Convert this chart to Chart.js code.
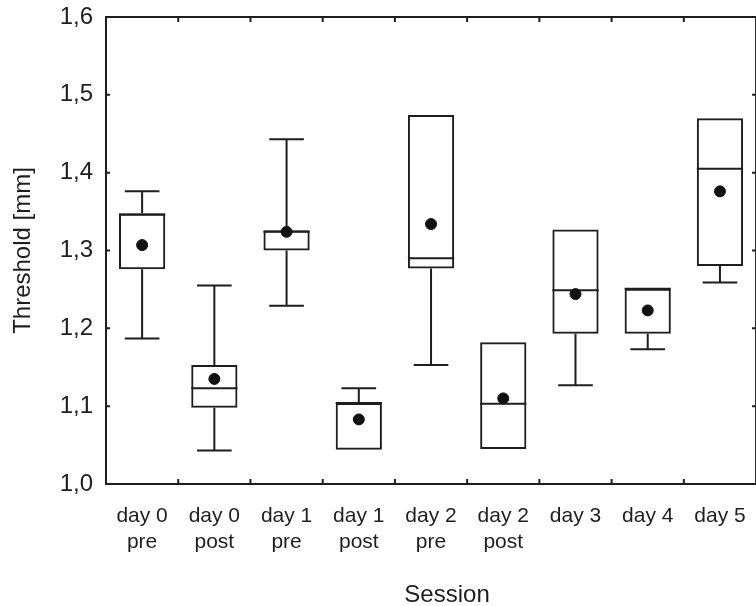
<!DOCTYPE html>
<html lang="en">
<head>
    <meta charset="UTF-8">
    <title>Threshold by session</title>
    <script src="https://cdn.jsdelivr.net/npm/chart.js@4.4.1/dist/chart.umd.min.js"></script>
    <style>
        body {
            margin: 0;
            background: #fff;
            overflow: hidden;
        }
        .chart-wrap {
            position: relative;
            width: 766px;
            height: 606px;
        }
    </style>
</head>
<body>
    <div class="chart-wrap">
        <canvas id="boxChart"></canvas>
    </div>

    <script>
        const sessions = [['day 0', 'pre'], ['day 0', 'post'], ['day 1', 'pre'], ['day 1', 'post'],
                          ['day 2', 'pre'], ['day 2', 'post'], 'day 3', 'day 4', 'day 5'];
        const whiskerLow  = [1.187, 1.043, 1.229, 1.044, 1.153, 1.045, 1.127, 1.173, 1.259];
        const q1          = [1.276, 1.098, 1.300, 1.044, 1.277, 1.045, 1.193, 1.193, 1.280];
        const median      = [1.346, 1.123, 1.324, 1.104, 1.290, 1.103, 1.249, 1.251, 1.405];
        const q3          = [1.348, 1.153, 1.326, 1.104, 1.474, 1.182, 1.327, 1.251, 1.470];
        const whiskerHigh = [1.376, 1.255, 1.443, 1.123, 1.474, 1.182, 1.327, 1.251, 1.470];
        const means       = [1.307, 1.135, 1.324, 1.083, 1.334, 1.110, 1.244, 1.223, 1.376];
        const yTicks = [1.0, 1.1, 1.2, 1.3, 1.4, 1.5, 1.6];
        const xTitle = 'Session';

        const ink = '#1e1e1e';
        const fontFamily = 'Arial, "Liberation Sans", sans-serif';

        // whiskers + median lines, then the frame with inward ticks
        const boxExtras = {
            id: 'boxExtras',
            beforeDatasetsDraw(chart) {
                const {ctx, scales: {x, y}} = chart;
                const cat = (chart.chartArea.right - chart.chartArea.left) / sessions.length;
                const capHalf = cat * 0.24;
                const boxHalf = cat * 0.32;
                ctx.save();
                ctx.strokeStyle = ink;
                ctx.lineWidth = 2;
                sessions.forEach((s, i) => {
                    const cx = x.getPixelForValue(i);
                    ctx.beginPath();
                    if (whiskerHigh[i] > q3[i]) {
                        ctx.moveTo(cx, y.getPixelForValue(q3[i]));
                        ctx.lineTo(cx, y.getPixelForValue(whiskerHigh[i]));
                        ctx.moveTo(cx - capHalf, y.getPixelForValue(whiskerHigh[i]));
                        ctx.lineTo(cx + capHalf, y.getPixelForValue(whiskerHigh[i]));
                    }
                    if (whiskerLow[i] < q1[i]) {
                        ctx.moveTo(cx, y.getPixelForValue(q1[i]));
                        ctx.lineTo(cx, y.getPixelForValue(whiskerLow[i]));
                        ctx.moveTo(cx - capHalf, y.getPixelForValue(whiskerLow[i]));
                        ctx.lineTo(cx + capHalf, y.getPixelForValue(whiskerLow[i]));
                    }
                    const my = y.getPixelForValue(median[i]);
                    ctx.moveTo(cx - boxHalf, my);
                    ctx.lineTo(cx + boxHalf, my);
                    ctx.stroke();
                });
                ctx.restore();
            },
            afterDatasetsDraw(chart) {
                const {ctx, chartArea: a, scales: {x, y}} = chart;
                const cat = (a.right - a.left) / sessions.length;
                ctx.save();
                ctx.strokeStyle = ink;
                ctx.lineWidth = 2;
                ctx.strokeRect(a.left, a.top, a.right - a.left, a.bottom - a.top);
                ctx.beginPath();
                yTicks.forEach(v => {
                    const py = y.getPixelForValue(v);
                    ctx.moveTo(a.left, py); ctx.lineTo(a.left + 4, py);
                    ctx.moveTo(a.right, py); ctx.lineTo(a.right - 4, py);
                });
                for (let i = 0; i < sessions.length - 1; i++) {
                    const px = x.getPixelForValue(i) + cat / 2;
                    ctx.moveTo(px, a.top); ctx.lineTo(px, a.top + 5);
                    ctx.moveTo(px, a.bottom); ctx.lineTo(px, a.bottom - 5);
                }
                ctx.stroke();

                // axis title sits a bit right of centre in the original
                ctx.fillStyle = ink;
                ctx.font = '24px ' + fontFamily;
                ctx.textAlign = 'center';
                ctx.textBaseline = 'alphabetic';
                ctx.fillText(xTitle, (a.left + a.right) / 2 + 16, 602);
                ctx.restore();
            }
        };

        new Chart(document.getElementById('boxChart'), {
            type: 'bar',
            data: {
                labels: sessions,
                datasets: [
                    {
                        type: 'line',
                        label: 'Mean',
                        data: means,
                        showLine: false,
                        pointRadius: 5.5,
                        pointBackgroundColor: '#111',
                        pointBorderColor: '#111',
                        order: 0
                    },
                    {
                        label: 'IQR',
                        data: q1.map((v, i) => [v, q3[i]]),
                        backgroundColor: 'rgba(0,0,0,0)',
                        borderColor: ink,
                        borderWidth: 2,
                        borderSkipped: false,
                        barPercentage: 0.64,
                        categoryPercentage: 1,
                        order: 1
                    }
                ]
            },
            options: {
                responsive: true,
                maintainAspectRatio: false,
                animation: false,
                layout: { padding: { top: 17, right: 3, left: 0, bottom: 0 } },
                plugins: {
                    legend: { display: false },
                    tooltip: { enabled: false }
                },
                scales: {
                    x: {
                        grid: { display: false, drawTicks: false },
                        border: { display: false },
                        afterFit: s => { s.height = 122; },
                        ticks: {
                            color: ink,
                            padding: 20,
                            maxRotation: 0,
                            autoSkip: false,
                            font: { family: fontFamily, size: 21, lineHeight: 1.2 }
                        },
                        title: { display: false }
                    },
                    y: {
                        min: 1.0,
                        max: 1.6,
                        grid: { display: false, drawTicks: false },
                        border: { display: false },
                        afterFit: s => {
                            s.width = 106;
                            s.paddingTop = 0;
                            s.paddingBottom = 0;
                        },
                        afterBuildTicks: s => { s.ticks = yTicks.map(v => ({ value: v })); },
                        ticks: {
                            color: ink,
                            padding: 13,
                            callback: v => v.toFixed(1).replace('.', ','),
                            font: { family: fontFamily, size: 24 }
                        },
                        title: {
                            display: true,
                            text: 'Threshold [mm]',
                            color: ink,
                            padding: { top: 9, bottom: 0 },
                            font: { family: fontFamily, size: 24 }
                        }
                    }
                }
            },
            plugins: [boxExtras]
        });
    </script>
</body>
</html>
